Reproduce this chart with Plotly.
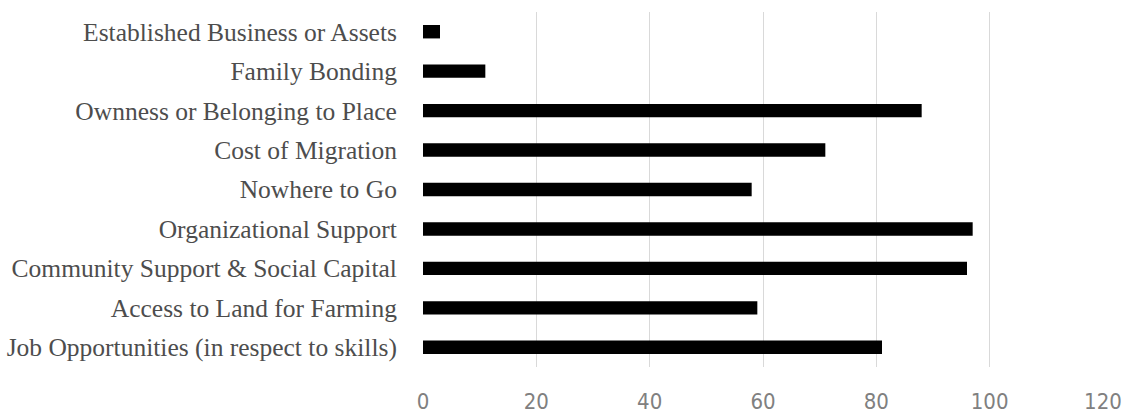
import plotly.graph_objects as go

categories = [
    "Established Business or Assets",
    "Family Bonding",
    "Ownness or Belonging to Place",
    "Cost of Migration",
    "Nowhere to Go",
    "Organizational Support",
    "Community Support & Social Capital",
    "Access to Land for Farming",
    "Job Opportunities (in respect to skills)",
]
values = [3, 11, 88, 71, 58, 97, 96, 59, 81]
x_ticks = [0, 20, 40, 60, 80, 100, 120]

fig = go.Figure(go.Bar(
    x=values, y=categories, orientation="h",
    marker=dict(color="#000000", line=dict(width=0)),
    width=0.34,
))

fig.update_layout(
    width=1128, height=416,
    margin=dict(l=423, r=25, t=12, b=49),
    paper_bgcolor="white", plot_bgcolor="white",
    showlegend=False,
)
fig.update_xaxes(
    range=[0, 120], tickvals=x_ticks, ticktext=[str(v) for v in x_ticks],
    showgrid=True, gridcolor="#d9d9d9", gridwidth=1,
    zeroline=False, showline=False, automargin=False,
    ticks="outside", ticklen=15, tickcolor="rgba(0,0,0,0)",
    tickfont=dict(family="Liberation Sans Narrow, DejaVu Sans Condensed, Arial Narrow, sans-serif", size=22, color="#808080"),
)
fig.update_yaxes(
    autorange="reversed", automargin=False,
    showgrid=False, zeroline=False, showline=False,
    ticks="outside", ticklen=20, tickcolor="rgba(0,0,0,0)",
    tickfont=dict(family="Liberation Serif, Times New Roman, serif", size=25.5, color="#4d4d4d"),
)

fig.write_html(
    "out.html",
    config={"displayModeBar": False},
    post_script="document.body.style.margin='0';document.body.style.overflow='hidden';",
)
